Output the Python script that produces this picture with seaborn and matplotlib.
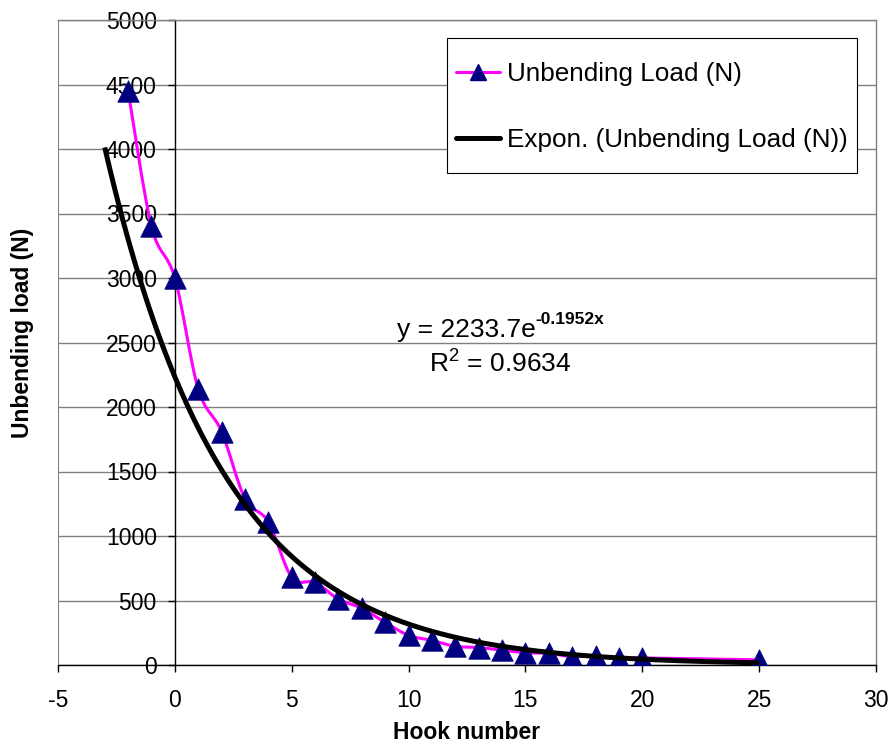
import numpy as np
import matplotlib
matplotlib.use('Agg')
import matplotlib.pyplot as plt
from matplotlib.path import Path
from matplotlib.patches import PathPatch, Rectangle
import seaborn as sns

# hook number vs unbending load
hook = [-2, -1, 0, 1, 2, 3, 4, 5, 6, 7, 8, 9, 10, 11, 12, 13, 14, 15, 16, 17, 18, 19, 20, 25]
load = [4450, 3400, 3000, 2140, 1810, 1290, 1110, 680, 640, 510, 440, 330, 230, 190,
        145, 135, 115, 95, 90, 65, 70, 55, 55, 40]

# exponential trend line shown in the chart
coef_a = 2233.7
coef_b = -0.1952
r_squared = 0.9634
trend_range = (-3, 25)

x_ticks = [-5, 0, 5, 10, 15, 20, 25, 30]
y_ticks = [0, 500, 1000, 1500, 2000, 2500, 3000, 3500, 4000, 4500, 5000]

sns.set_theme(style="white")
plt.rcParams['font.family'] = ['Liberation Sans', 'DejaVu Sans']
plt.rcParams['mathtext.fontset'] = 'custom'
plt.rcParams['mathtext.rm'] = 'Liberation Sans'
plt.rcParams['axes.unicode_minus'] = False
plt.rcParams['text.color'] = 'black'
plt.rcParams['axes.labelcolor'] = 'black'
plt.rcParams['xtick.color'] = 'black'
plt.rcParams['ytick.color'] = 'black'

fig = plt.figure(figsize=(8.9, 7.44), dpi=100)
ax = fig.add_axes([58 / 890, 79 / 744, 818 / 890, 645 / 744])

# smoothed line like Excel's (cubic bezier through the points)
pts = np.column_stack([hook, load]).astype(float)
padded = np.vstack([pts[0], pts, pts[-1]])
verts = [tuple(pts[0])]
codes = [Path.MOVETO]
for i in range(1, len(padded) - 2):
    p0, p1, p2, p3 = padded[i - 1], padded[i], padded[i + 1], padded[i + 2]
    c1 = p1 + (p2 - p0) / 6
    c2 = p2 - (p3 - p1) / 6
    verts += [tuple(c1), tuple(c2), tuple(p2)]
    codes += [Path.CURVE4] * 3
ax.add_patch(PathPatch(Path(verts, codes), facecolor='none', edgecolor='#ff00ff',
                       lw=2.2, zorder=3))

sns.scatterplot(x=hook, y=load, marker='^', s=240, color='#000080', edgecolor='#000080',
                linewidth=0.5, zorder=4, ax=ax)

tx = np.linspace(trend_range[0], trend_range[1], 300)
ax.plot(tx, coef_a * np.exp(coef_b * tx), color='black', lw=3.6, zorder=5,
        solid_capstyle='butt')

# legend: box drawn separately so its padding matches the Excel look
ax.add_patch(Rectangle((0.4756, 0.7628), 0.5012, 0.2092, transform=ax.transAxes,
                       facecolor='white', edgecolor='black', lw=0.8, zorder=5.5))
h1, = ax.plot([], [], color='#ff00ff', lw=2.2, marker='^', markersize=12,
              markerfacecolor='#000080', markeredgecolor='#000080')
h2, = ax.plot([], [], color='black', lw=3.6)
leg = ax.legend([h1, h2], ['Unbending Load (N)', 'Expon. (Unbending Load (N))'],
                loc='upper left', bbox_to_anchor=(0.4866, 0.935), fontsize=18.8,
                frameon=False, borderpad=0, labelspacing=1.6,
                handlelength=1.7, handletextpad=0.27, borderaxespad=0)
leg.set_zorder(6)

ax.set_xlim(-5, 30)
ax.set_ylim(0, 5000)
ax.set_xticks(x_ticks)
ax.set_yticks(y_ticks)
ax.yaxis.grid(True, color='#808080', lw=1)
ax.set_axisbelow(True)

ax.spines['left'].set_position(('data', 0))
for s in ['left', 'bottom']:
    ax.spines[s].set_color('black')
    ax.spines[s].set_linewidth(1)
for s in ['top', 'right']:
    ax.spines[s].set_color('#808080')
    ax.spines[s].set_linewidth(1)
ax.axvline(-5, color='#808080', lw=1.5, zorder=1)

ax.tick_params(axis='both', direction='out', length=5, width=1, color='black',
               labelsize=16.5, left=True, bottom=True)
ax.tick_params(axis='y', pad=8)
ax.tick_params(axis='x', pad=12)

ax.set_xlabel('Hook number', fontsize=16.5, fontweight='bold', va='center')
ax.set_ylabel('Unbending load (N)', fontsize=16.5, fontweight='bold', va='center')
ax.xaxis.set_label_coords(0.5, -0.105)
ax.yaxis.set_label_coords(-0.044, 0.515)

# trend line equation, exponent set as a small bold superscript
eq = ax.text(9.5, 2600, 'y = 2233.7e', fontsize=19, ha='left', va='center')
ax.annotate('%sx' % coef_b, xy=(1.0, 0.72), xycoords=eq, fontsize=12.5,
            fontweight='bold', ha='left', va='baseline')
ax.text(13.9, 2340, r'R$^{2}$ = %.4f' % r_squared, fontsize=19, ha='center', va='center')

fig.savefig('out.png', dpi=100)
